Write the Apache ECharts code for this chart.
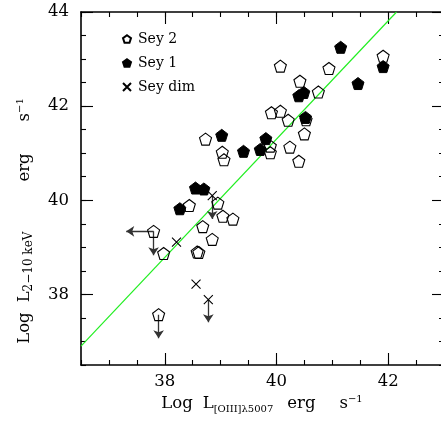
<!DOCTYPE html>
<html><head><meta charset="utf-8">
<script src="https://cdn.jsdelivr.net/npm/echarts@6/dist/echarts.min.js"></script>
<style>html,body{margin:0;padding:0;background:#fff}#c{width:441px;height:424px}</style>
</head><body><div id="c"></div>
<script>
// ---- data ----
const xRange = [36.5, 43];
const yRange = [36.5, 44];
const xTickLabels = [38, 40, 42];
const yTickLabels = [38, 40, 42, 44];
const seriesNames = ['Sey 2', 'Sey 1', 'Sey dim'];
// Sey 2 (open pentagons) [logL_OIII, logL_2-10]
const sey2 = [
  [40.07, 42.85], [40.42, 42.53], [40.75, 42.30], [40.94, 42.80], [41.91, 43.06],
  [39.91, 41.86], [40.07, 41.89], [40.21, 41.70], [40.53, 41.71], [40.50, 41.41],
  [38.73, 41.30], [39.03, 41.02], [39.06, 40.86], [39.89, 41.15], [39.89, 41.01],
  [40.24, 41.13], [40.40, 40.83], [38.95, 39.94], [38.44, 39.89], [39.04, 39.66],
  [39.22, 39.60], [38.68, 39.44], [37.80, 39.34], [38.85, 39.17], [38.58, 38.90],
  [38.61, 38.89], [37.98, 38.87], [37.89, 37.57]
];
// Sey 1 (filled pentagons)
const sey1 = [
  [41.15, 43.25], [41.91, 42.84], [41.46, 42.48], [40.40, 42.22], [40.49, 42.29],
  [40.52, 41.76], [39.02, 41.38], [39.81, 41.31], [39.41, 41.04], [39.71, 41.08],
  [38.55, 40.26], [38.70, 40.24], [38.27, 39.82]
];
// Sey dim (crosses)
const seyDim = [
  [38.85, 40.10], [38.21, 39.11], [38.56, 38.22], [38.78, 37.89]
];
// upper limits in y: [x, y, yArrowEnd]
const yUpperLimits = [
  [37.80, 39.34, 38.83], [37.89, 37.57, 37.07], [38.85, 40.10, 39.60], [38.78, 37.89, 37.41]
];
// upper limits in x: [x, y, xArrowEnd]
const xUpperLimits = [
  [37.80, 39.34, 37.31]
];
// correlation line end points
const fitLine = [[36.5, 36.90], [42.15, 44.0]];

// ---- chart ----
const FONT = 'DejaVu Serif';
const pentagon = 'path://M0,-1 L0.951,-0.309 L0.588,0.809 L-0.588,0.809 L-0.951,-0.309 Z';
const cross = 'path://M-1,-1 L1,1 M1,-1 L-1,1';

function makeAxis(kind, position, major, withLabels) {
  const labels = kind === 'x' ? xTickLabels : yTickLabels;
  const range = kind === 'x' ? xRange : yRange;
  const ax = {
    type: 'value', position: position, min: range[0], max: range[1],
    interval: 0.5,
    axisLine: { show: !major, onZero: false, lineStyle: { color: '#000', width: 1.6 } },
    axisTick: { show: true, inside: true, length: major ? 12 : 5, lineStyle: { color: '#000', width: 1.1 } },
    splitLine: { show: false },
    axisLabel: { show: false }
  };
  if (major) ax.axisTick.customValues = labels;
  if (withLabels) {
    ax.axisLabel = {
      show: true, customValues: labels, color: '#000', fontFamily: FONT, fontSize: 16.5,
      margin: kind === 'x' ? 8 : 12
    };
  }
  return ax;
}

const xAxes = [
  makeAxis('x', 'bottom', false, true),
  makeAxis('x', 'bottom', true, false),
  makeAxis('x', 'top', false, false),
  makeAxis('x', 'top', true, false)
];
const yAxes = [
  makeAxis('y', 'left', false, true),
  makeAxis('y', 'left', true, false),
  makeAxis('y', 'right', false, false),
  makeAxis('y', 'right', true, false)
];

const arrowData = [];
yUpperLimits.forEach(d => arrowData.push({ coords: [[d[0], d[1]], [d[0], d[2]]] }));
xUpperLimits.forEach(d => arrowData.push({ coords: [[d[0], d[1]], [d[2], d[1]]] }));

function main(fs) { return { fontFamily: FONT, fontSize: fs, color: '#000', lineHeight: 20 }; }
function sub(fs) { return { fontFamily: FONT, fontSize: fs, color: '#000', lineHeight: 10, verticalAlign: 'bottom' }; }
const richSup = { fontFamily: FONT, fontSize: 10, color: '#000', lineHeight: 10, verticalAlign: 'top' };
function gap(fs, n) { return Object.assign(main(fs), { padding: [0, 0, 0, n] }); }

const chart = echarts.init(document.getElementById('c'), null, { renderer: 'canvas' });
chart.setOption({
  animation: false,
  backgroundColor: '#fff',
  grid: { left: 81, top: 12, width: 363, height: 353, containLabel: false, outerBoundsMode: 'none' },
  xAxis: xAxes,
  yAxis: yAxes,
  legend: {
    data: seriesNames, orient: 'vertical', left: 117, top: 27,
    itemWidth: 8, itemHeight: 8, itemGap: 10,
    textStyle: { fontFamily: FONT, fontSize: 14, color: '#000', lineHeight: 14, padding: [0, 0, 0, 2] }
  },
  graphic: [
    {
      type: 'text', x: 262, y: 404,
      style: {
        text: '{m|Log}{g1|L}{sub|[OIII]λ5007}{g2|erg}{g3|s}{sup|−1}',
        align: 'center', verticalAlign: 'middle', fontFamily: FONT, fontSize: 16.5,
        rich: { m: main(16.5), g1: gap(16.5, 10), g2: gap(16.5, 14), g3: gap(16.5, 24), sub: sub(10), sup: richSup }
      }
    },
    {
      type: 'text', x: 25, y: 221, rotation: Math.PI / 2,
      style: {
        text: '{m|Log}{g1|L}{sub|2−10 keV}{g2|erg}{g3|s}{sup|−1}',
        align: 'center', verticalAlign: 'middle', fontFamily: FONT, fontSize: 16.5,
        rich: { m: main(16.5), g1: gap(16.5, 10), g2: gap(16.5, 50), g3: gap(16.5, 32), sub: sub(12), sup: richSup }
      }
    }
  ],
  series: [
    {
      type: 'line', data: fitLine, symbol: 'none', silent: true, z: 1, clip: true,
      lineStyle: { color: '#22ee22', width: 1.2 }
    },
    {
      type: 'lines', coordinateSystem: 'cartesian2d', data: arrowData, silent: true, z: 2,
      symbol: ['none', 'arrow'], symbolSize: 8,
      lineStyle: { color: '#333', width: 1.3, opacity: 1 }
    },
    {
      name: 'Sey 2', type: 'scatter', data: sey2, symbol: pentagon, symbolSize: 12, z: 3,
      itemStyle: { color: 'rgba(255,255,255,0)', borderColor: '#000', borderWidth: 1.1, opacity: 1 }
    },
    {
      name: 'Sey 1', type: 'scatter', data: sey1, symbol: pentagon, symbolSize: 12, z: 4,
      itemStyle: { color: '#000', borderColor: '#000', borderWidth: 1, opacity: 1 }
    },
    {
      name: 'Sey dim', type: 'scatter', data: seyDim, symbol: cross, symbolSize: 9, z: 4,
      itemStyle: { color: 'rgba(255,255,255,0)', borderColor: '#000', borderWidth: 1.1, opacity: 1 }
    }
  ]
});
</script>
</body></html>
